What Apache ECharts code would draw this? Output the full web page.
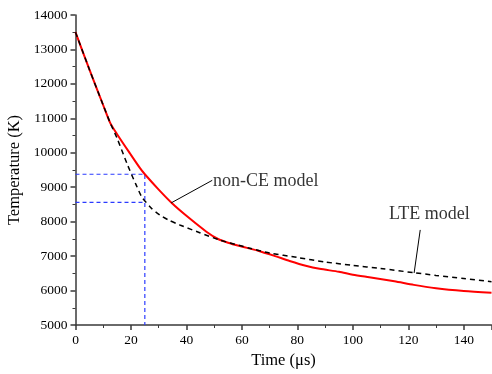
<!DOCTYPE html>
<html><head><meta charset="utf-8">
<script src="https://cdn.jsdelivr.net/npm/echarts@6/dist/echarts.min.js"></script>
<style>html,body{margin:0;padding:0;background:#fff}#c{width:492px;height:374px}</style>
</head><body><div id="c"></div>
<script>
// non-CE model (time in µs, temperature in K)
const nonCE = [[0,13500],[5,12420],[10,11380],[12.5,10870],[15,10540],[19.6,9985],[23.2,9560],[25,9376],[30,8930],[34.8,8534],[40,8170],[47.2,7709],[51.4,7497],[55,7390],[59.2,7294],[65.8,7157],[72,7000],[77.2,6860],[83,6720],[88,6630],[95,6545],[100,6460],[105.9,6385],[115,6270],[122,6165],[130,6070],[140,5990],[150,5935]];
// LTE model
const lte = [[0,13500],[5,12420],[10,11380],[12.5,10870],[15,10420],[18.8,9640],[21.9,9060],[24,8700],[25.5,8560],[27.5,8380],[30.4,8194],[33.5,8050],[37.6,7904],[44.8,7680],[52,7468],[62.8,7230],[70,7090],[80,6960],[90,6830],[100,6730],[110,6640],[122,6519],[130,6440],[140,6350],[150,6257]];
const guideH1 = [[0,9376],[25,9376],[25,5000]];
const guideH2 = [[0,8560],[25,8560]];
const leaderNonCE = [[34.5,8545],[49.3,9200]];
const leaderLTE = [[122.1,6510],[124.3,7760]];
const labels = [{name:'non-CE model', value:[49.6,9181]}, {name:'LTE model', value:[113,8223]}];
const xTicks = {min:0, max:150, interval:20};
const yTicks = {min:5000, max:14000, interval:1000};

const font = '"Liberation Serif","Times New Roman",serif';
const axisCol = '#3a3a3a';
const chart = echarts.init(document.getElementById('c'), null, {renderer:'canvas'});
const axisCommon = {
  axisLine:{show:true, onZero:false, lineStyle:{color:axisCol, width:1.5}},
  axisTick:{show:true, inside:false, length:5, lineStyle:{color:axisCol, width:1.5}},
  minorTick:{show:true, splitNumber:2, length:3, lineStyle:{color:axisCol, width:1}},
  splitLine:{show:false},
  nameTextStyle:{color:'#000', fontFamily:font, fontSize:16.5}
};
const lab = {color:'#000', fontFamily:font, fontSize:13.5, margin:8, formatter:v=>String(v)};
chart.setOption({
  animation:false,
  grid:{left:75.5, right:0.5, top:15, bottom:49, containLabel:false, outerBoundsMode:'none'},
  xAxis:Object.assign({type:'value', min:xTicks.min, max:xTicks.max, interval:xTicks.interval,
    name:'Time (μs)', nameLocation:'middle', nameGap:23}, axisCommon,
    {axisLabel:Object.assign({}, lab, {showMaxLabel:false})}),
  yAxis:Object.assign({type:'value', min:yTicks.min, max:yTicks.max, interval:yTicks.interval,
    name:'Temperature (K)', nameLocation:'middle', nameGap:46}, axisCommon,
    {axisLabel:Object.assign({}, lab, {showMaxLabel:true})}),
  series:[
    {type:'line', data:guideH1, symbol:'none', lineStyle:{color:'#2b3bff', width:1.2, type:[4,3]}, z:1},
    {type:'line', data:guideH2, symbol:'none', lineStyle:{color:'#2b3bff', width:1.2, type:[4,3]}, z:1},
    {type:'line', data:nonCE, symbol:'none', smooth:0.25, lineStyle:{color:'#ff0000', width:2}, z:3},
    {type:'line', data:lte, symbol:'none', smooth:0.25, lineStyle:{color:'#000', width:1.5, type:[5,4]}, z:4},
    {type:'line', data:leaderNonCE, symbol:'none', lineStyle:{color:'#000', width:1}, z:5},
    {type:'line', data:leaderLTE, symbol:'none', lineStyle:{color:'#000', width:1}, z:5},
    {type:'scatter', data:labels, symbolSize:0, z:6,
      label:{show:true, position:'right', distance:0, formatter:p=>p.name, color:'#000', fontFamily:font, fontSize:18}}
  ]
});
</script></body></html>
